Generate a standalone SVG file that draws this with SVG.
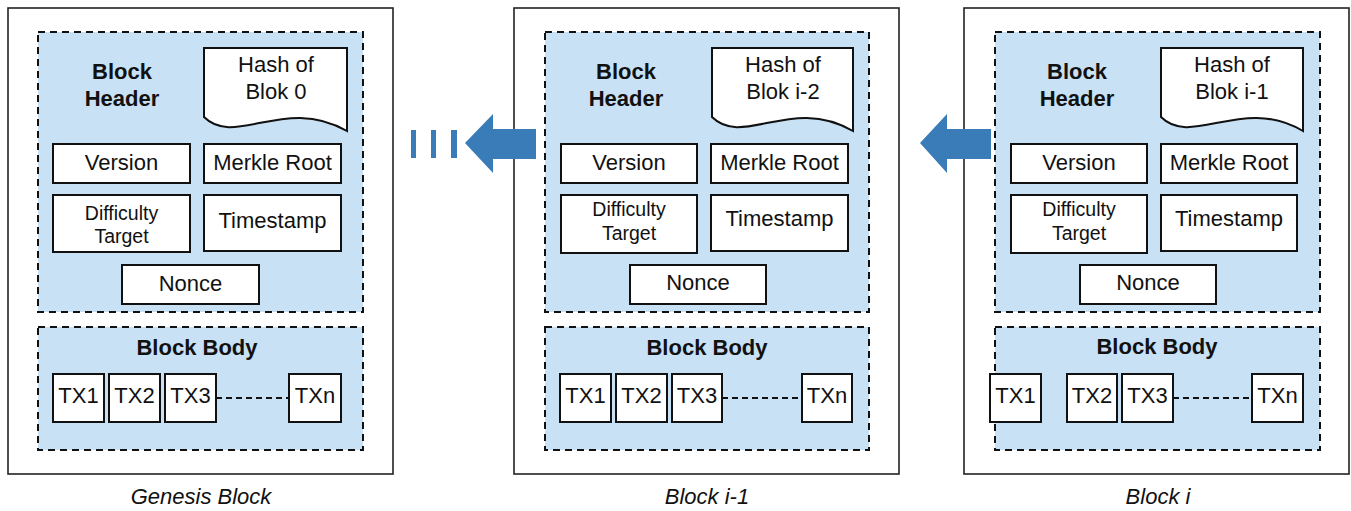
<svg xmlns="http://www.w3.org/2000/svg" width="1351" height="511" viewBox="0 0 1351 511">
<style>
.outer{fill:#fff;stroke:#222;stroke-width:1.6}
.area{fill:#c8e1f4;stroke:#111;stroke-width:2;stroke-dasharray:7 5}
.box{fill:#fff;stroke:#111;stroke-width:2}
.t{font-family:"Liberation Sans",Arial,sans-serif;font-size:22px;fill:#111;text-anchor:middle}
.s{font-size:19.5px}
.b{font-weight:bold}
.cap{font-style:italic;font-size:22px}
.dl{stroke:#111;stroke-width:2;stroke-dasharray:6 4;fill:none}
.arrow{fill:#3a7cb8}
</style>
<rect width="1351" height="511" fill="#fff"/>

<g id="genesis">
<rect class="outer" x="8" y="8" width="385" height="466"/>
<rect class="area" x="38" y="32" width="325" height="280"/>
<path class="box" d="M204,48 H347 V131 C285,95 235,148 204,117 Z"/>
<text class="t" x="276" y="72">Hash of</text>
<text class="t" x="276" y="99">Blok 0</text>
<text class="t b" x="122" y="79">Block</text>
<text class="t b" x="122" y="106">Header</text>
<rect class="box" x="53" y="144" width="137" height="39"/><text class="t" x="121.5" y="170">Version</text>
<rect class="box" x="204" y="144" width="137" height="39"/><text class="t" x="272.5" y="170">Merkle Root</text>
<rect class="box" x="53" y="195" width="137" height="57"/><text class="t s" x="121.5" y="220">Difficulty</text><text class="t s" x="121.5" y="243">Target</text>
<rect class="box" x="204" y="195" width="137" height="56"/><text class="t" x="272.5" y="228">Timestamp</text>
<rect class="box" x="122" y="265" width="137" height="39"/><text class="t" x="190.5" y="291">Nonce</text>
<rect class="area" x="38" y="327" width="325" height="123"/>
<text class="t b" x="197" y="355">Block Body</text>
<path class="dl" d="M216,398 H289"/>
<rect class="box" x="53" y="374" width="51" height="48"/><text class="t" x="78.5" y="403">TX1</text>
<rect class="box" x="109" y="374" width="51" height="48"/><text class="t" x="134.5" y="403">TX2</text>
<rect class="box" x="165" y="374" width="51" height="48"/><text class="t" x="190.5" y="403">TX3</text>
<rect class="box" x="289" y="374" width="52" height="48"/><text class="t" x="315" y="403">TXn</text>
<text class="t cap" x="201" y="504">Genesis Block</text>
</g>

<g id="block-i-1">
<rect class="outer" x="514" y="8" width="385" height="466"/>
<rect class="area" x="545" y="32" width="324" height="280"/>
<path class="box" d="M712,48 H853 V131 C792,95 743,148 712,117 Z"/>
<text class="t" x="783" y="72">Hash of</text>
<text class="t" x="783" y="99">Blok i-2</text>
<text class="t b" x="626" y="79">Block</text>
<text class="t b" x="626" y="106">Header</text>
<rect class="box" x="561" y="144" width="136" height="39"/><text class="t" x="629" y="170">Version</text>
<rect class="box" x="711" y="144" width="137" height="39"/><text class="t" x="779.5" y="170">Merkle Root</text>
<rect class="box" x="561" y="195" width="136" height="58"/><text class="t s" x="629" y="216">Difficulty</text><text class="t s" x="629" y="240">Target</text>
<rect class="box" x="711" y="195" width="137" height="56"/><text class="t" x="779.5" y="226">Timestamp</text>
<rect class="box" x="630" y="265" width="136" height="39"/><text class="t" x="698" y="290">Nonce</text>
<rect class="area" x="545" y="327" width="324" height="123"/>
<text class="t b" x="707" y="355">Block Body</text>
<path class="dl" d="M722,398 H802"/>
<rect class="box" x="560" y="374" width="51" height="48"/><text class="t" x="585.5" y="403">TX1</text>
<rect class="box" x="616" y="374" width="51" height="48"/><text class="t" x="641.5" y="403">TX2</text>
<rect class="box" x="672" y="374" width="50" height="48"/><text class="t" x="697" y="403">TX3</text>
<rect class="box" x="802" y="374" width="50" height="48"/><text class="t" x="827" y="403">TXn</text>
<text class="t cap" x="707" y="504">Block i-1</text>
</g>

<g id="block-i">
<rect class="outer" x="964" y="8" width="385" height="466"/>
<rect class="area" x="995" y="32" width="325" height="280"/>
<path class="box" d="M1161,48 H1303 V131 C1242,95 1192,148 1161,117 Z"/>
<text class="t" x="1232" y="72">Hash of</text>
<text class="t" x="1232" y="99">Blok i-1</text>
<text class="t b" x="1077" y="79">Block</text>
<text class="t b" x="1077" y="106">Header</text>
<rect class="box" x="1011" y="144" width="136" height="39"/><text class="t" x="1079" y="170">Version</text>
<rect class="box" x="1161" y="144" width="136" height="39"/><text class="t" x="1229" y="170">Merkle Root</text>
<rect class="box" x="1011" y="195" width="136" height="58"/><text class="t s" x="1079" y="216">Difficulty</text><text class="t s" x="1079" y="240">Target</text>
<rect class="box" x="1161" y="195" width="136" height="56"/><text class="t" x="1229" y="226">Timestamp</text>
<rect class="box" x="1080" y="265" width="136" height="39"/><text class="t" x="1148" y="290">Nonce</text>
<rect class="area" x="995" y="327" width="325" height="123"/>
<text class="t b" x="1157" y="354">Block Body</text>
<path class="dl" d="M1173,398 H1252"/>
<rect class="box" x="990" y="374" width="51" height="48"/><text class="t" x="1015.5" y="403">TX1</text>
<rect class="box" x="1067" y="374" width="50" height="48"/><text class="t" x="1092" y="403">TX2</text>
<rect class="box" x="1122" y="374" width="51" height="48"/><text class="t" x="1147.5" y="403">TX3</text>
<rect class="box" x="1252" y="374" width="51" height="48"/><text class="t" x="1277.5" y="403">TXn</text>
<text class="t cap" x="1158" y="504">Block i</text>
</g>

<g id="connectors">
<rect class="arrow" x="411" y="130" width="5" height="28"/>
<rect class="arrow" x="431" y="130" width="5" height="28"/>
<rect class="arrow" x="451" y="130" width="6" height="28"/>
<polygon class="arrow" points="465,143 493,114 493,129 536,129 536,159 493,159 493,173"/>
<polygon class="arrow" points="920,143 947,114 947,129 991,129 991,159 947,159 947,173"/>
</g>
</svg>
